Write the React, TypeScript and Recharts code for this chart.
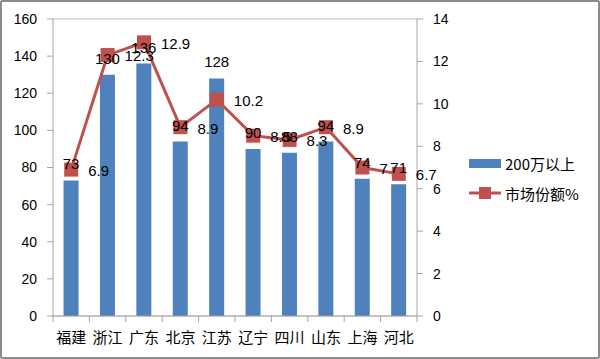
import React from "react";
import {
  ComposedChart,
  Bar,
  Line,
  XAxis,
  YAxis,
  CartesianGrid,
  LabelList,
} from "recharts";

const provinces = ["福建", "浙江", "广东", "北京", "江苏", "辽宁", "四川", "山东", "上海", "河北"];
const over200w = [73, 130, 136, 94, 128, 90, 88, 94, 74, 71];
const marketShare = [6.9, 12.3, 12.9, 8.9, 10.2, 8.5, 8.3, 8.9, 7, 6.7];
const leftTicks = [0, 20, 40, 60, 80, 100, 120, 140, 160];
const rightTicks = [0, 2, 4, 6, 8, 10, 12, 14];

const data = provinces.map((name, i) => ({
  name,
  bar: over200w[i],
  share: marketShare[i],
}));

const BLUE = "#4F81BD";
const RED = "#C0504D";
const AXIS = "#A6A6A6";
const FONT = "'Liberation Sans', 'Noto Sans CJK SC', sans-serif";

const SquareDot = (props: any) => {
  const { cx, cy } = props;
  if (cx == null || cy == null) return null;
  return <rect x={cx - 7} y={cy - 7} width={14} height={14} fill={RED} />;
};

const CatTick = (props: any) => {
  const { x, y, payload, index } = props;
  const half = payload.offset ?? 18.2;
  return (
    <g>
      <line x1={x - half} y1={y - 8} x2={x - half} y2={y - 2} stroke={AXIS} />
      {index === provinces.length - 1 && (
        <line x1={x + half} y1={y - 8} x2={x + half} y2={y - 2} stroke={AXIS} />
      )}
      <text
        x={x}
        y={y + 19}
        textAnchor="middle"
        fontSize={15}
        fill="#000"
        fontFamily="'Noto Sans CJK SC', sans-serif"
      >
        {payload.value}
      </text>
    </g>
  );
};

// legend drawn as an overlay so it does not eat plot width
const LegendBox = () => (
  <div
    style={{
      position: "absolute",
      left: 469,
      top: 152,
      width: 125,
      whiteSpace: "nowrap",
      fontFamily: "'Noto Sans CJK SC', sans-serif",
      fontSize: 15,
      color: "#000",
    }}
  >
    <div style={{ display: "flex", alignItems: "center", height: 22 }}>
      <div style={{ width: 32, height: 9, background: BLUE, marginRight: 4 }} />
      <span>200万以上</span>
    </div>
    <div style={{ display: "flex", alignItems: "center", height: 22, marginTop: 8 }}>
      <svg width={32} height={14} style={{ marginRight: 4 }}>
        <line x1={0} y1={7} x2={32} y2={7} stroke={RED} strokeWidth={3} />
        <rect x={10} y={1} width={12} height={12} fill={RED} />
      </svg>
      <span>市场份额%</span>
    </div>
  </div>
);

export default function App() {
  return (
    <div
      style={{
        position: "absolute",
        left: 0,
        top: 0,
        width: 600,
        height: 359,
        background: "#fff",
        boxSizing: "border-box",
        border: "2px solid #8C8C8C",
        borderRadius: 2,
      }}
    >
      <div style={{ position: "absolute", left: -2, top: -2 }}>
        <ComposedChart
          width={600}
          height={359}
          data={data}
          margin={{ top: 19, left: 8, right: 143, bottom: 13 }}
          barCategoryGap="29%"
        >
          <CartesianGrid vertical={false} stroke="#BFBFBF" />
          <XAxis
            dataKey="name"
            axisLine={{ stroke: AXIS }}
            tickLine={false}
            tick={<CatTick />}
            height={30}
            interval={0}
          />
          <YAxis
            yAxisId="left"
            domain={[0, 160]}
            ticks={leftTicks}
            width={45}
            axisLine={{ stroke: AXIS }}
            tickLine={{ stroke: AXIS }}
            tickSize={6}
            tick={{ fill: "#000", fontSize: 14, fontFamily: FONT, dx: -8 }}
          />
          <YAxis
            yAxisId="right"
            orientation="right"
            domain={[0, 14]}
            ticks={rightTicks}
            width={40}
            axisLine={{ stroke: AXIS }}
            tickLine={{ stroke: AXIS }}
            tickSize={6}
            tick={{ fill: "#000", fontSize: 14, fontFamily: FONT, dx: 8 }}
          />
          <Bar yAxisId="left" dataKey="bar" fill={BLUE} isAnimationActive={false}>
            <LabelList
              dataKey="bar"
              position="top"
              offset={11}
              fill="#000"
              fontSize={15}
              fontFamily={FONT}
            />
          </Bar>
          <Line
            yAxisId="right"
            dataKey="share"
            stroke={RED}
            strokeWidth={3}
            dot={<SquareDot />}
            activeDot={false}
            isAnimationActive={false}
          >
            <LabelList
              dataKey="share"
              position="right"
              offset={17}
              fill="#000"
              fontSize={15}
              fontFamily={FONT}
              dy={1}
            />
          </Line>
        </ComposedChart>
      </div>
      <div style={{ position: "absolute", left: -2, top: -2 }}>
        <LegendBox />
      </div>
    </div>
  );
}
